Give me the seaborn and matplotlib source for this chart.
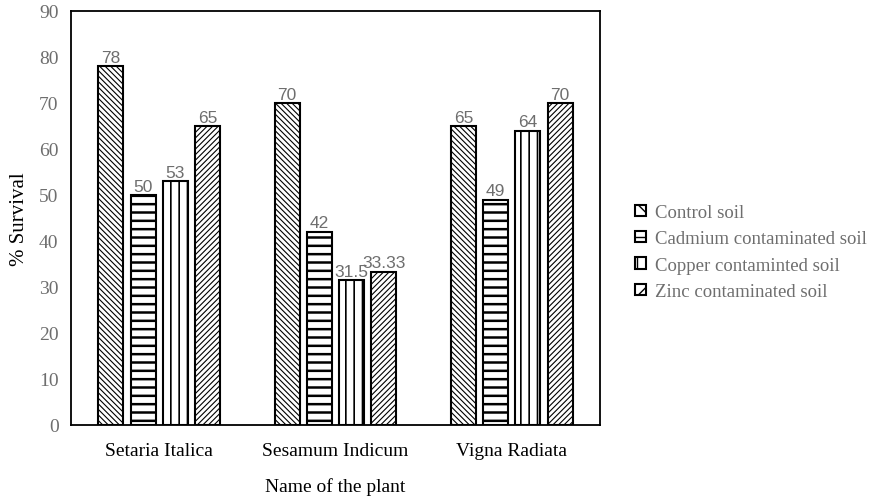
import matplotlib
matplotlib.use("Agg")
import matplotlib.pyplot as plt
import seaborn as sns
import pandas as pd

plants = ["Setaria Italica", "Sesamum Indicum", "Vigna Radiata"]
soils = ["Control soil", "Cadmium contaminated soil",
         "Copper contaminted soil", "Zinc contaminated soil"]
control = [78, 70, 65]
cadmium = [50, 42, 49]
copper = [53, 31.5, 64]
zinc = [65, 33.33, 70]

series = [control, cadmium, copper, zinc]
rows = []
for soil, vals in zip(soils, series):
    for plant, v in zip(plants, vals):
        rows.append({"plant": plant, "soil": soil, "survival": v})
df = pd.DataFrame(rows)

sns.set_theme(style="white")
plt.rcParams["font.family"] = ["Liberation Serif", "DejaVu Serif"]
plt.rcParams["hatch.linewidth"] = 1.0

fig = plt.figure(figsize=(8.8, 5.02), dpi=100)
ax = fig.add_axes([0.0807, 0.1514, 0.6011, 0.8247])

sns.barplot(data=df, x="plant", y="survival", hue="soil", order=plants,
            hue_order=soils, palette=["white"] * 4, edgecolor="black",
            linewidth=1.5, width=0.73, gap=0.22, errorbar=None, ax=ax)

hatches = ["\\\\\\\\\\\\", "--", "||", "//////"]
hatch_widths = [0.8, 1.8, 1.2, 0.8]
for cont, h, hw, vals in zip(ax.containers, hatches, hatch_widths, series):
    for bar in cont:
        bar.set_hatch(h)
        if hasattr(bar, "set_hatch_linewidth"):
            bar.set_hatch_linewidth(hw)
    ax.bar_label(cont, labels=[f"{v:g}" for v in vals], padding=1,
                 fontsize=12.5, color="#6e6e6e", family="Liberation Sans")

ax.set_ylim(0, 90)
ax.set_yticks(range(0, 91, 10))
ax.tick_params(axis="y", labelsize=14, length=0, pad=9)
ax.tick_params(axis="x", labelsize=14, length=0, pad=12)
for lab in ax.get_yticklabels():
    lab.set_color("#6e6e6e")
for lab in ax.get_xticklabels():
    lab.set_color("black")
for s in ax.spines.values():
    s.set_visible(True)
    s.set_color("black")
    s.set_linewidth(1.3)

ax.set_xlabel("Name of the plant", fontsize=14, labelpad=13, color="black")
ax.set_ylabel("% Survival", fontsize=15, labelpad=7, color="black")

handles, labels = ax.get_legend_handles_labels()
leg = ax.legend(handles, labels, loc="center left", bbox_to_anchor=(1.035, 0.418),
                frameon=False, fontsize=13.5, handlelength=0.55, handleheight=0.55,
                handletextpad=0.5, labelspacing=0.5, labelcolor="#6e6e6e")
for h, hatch in zip(leg.legend_handles, hatches):
    h.set_hatch(hatch[:2])
    h.set_edgecolor("black")
    h.set_facecolor("white")

fig.savefig("out.png", dpi=100)
